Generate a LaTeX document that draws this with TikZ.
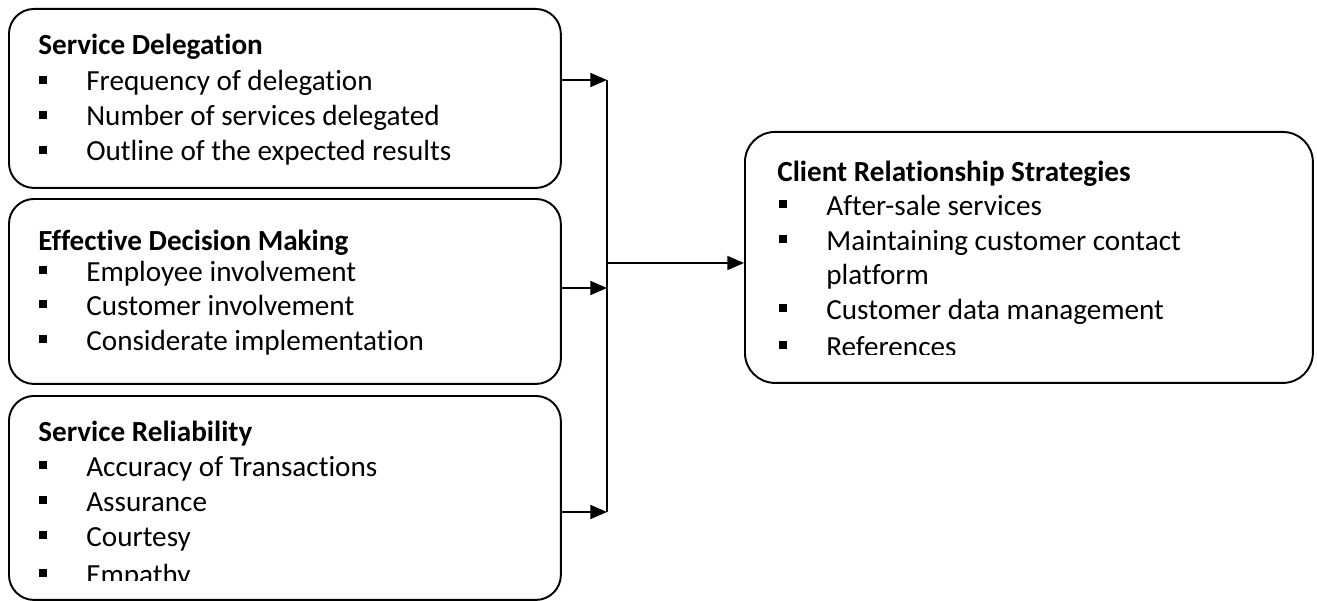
\documentclass[tikz,border=0pt]{standalone}
\usepackage{fontspec}
\setmainfont{Carlito}[Ligatures=NoCommon]
\usetikzlibrary{arrows.meta}

\tikzset{
  box/.style={draw, line width=1.1pt, rounded corners=0.5cm, anchor=north west, inner sep=0pt},
  txt/.style={anchor=base west, inner sep=0pt, font=\fontsize{16.6}{20}\selectfont},
  link/.style={line width=0.8pt, -{Triangle[length=9.5pt,width=8pt]}}
}
\newcommand{\bul}{\rule[4pt]{4.4pt}{4.4pt}}

\begin{document}
\begin{tikzpicture}[x=0.02cm,y=-0.02cm]
		\useasboundingbox (0,0) rectangle (1317,601);

		% Boxes
		\node[box, minimum width=11.04cm, minimum height=3.58cm] (sd) at (8,8) {};
		\node[box, minimum width=11.04cm, minimum height=3.7cm] (edm) at (8,198) {};
		\node[box, minimum width=11.04cm, minimum height=4.08cm] (sr) at (8,395) {};
		\node[box, rounded corners=0.6cm, minimum width=11.36cm, minimum height=5.02cm] (crs) at (744,131) {};

		% Service Delegation
		\node[txt] (sdt) at (38,55) {\bfseries Service Delegation};
		\foreach \y/\t in {91/Frequency of delegation, 126/Number of services delegated, 161/Outline of the expected results} {
			\node[txt] at (39,\y) {\bul};
			\node[txt] at (86,\y) {\t};
		}

		% Effective Decision Making
		\node[txt] (edmt) at (38,250) {\bfseries Effective Decision Making};
		\foreach \y/\t in {281/Employee involvement, 315/Customer involvement, 350/Considerate implementation} {
			\node[txt] at (39,\y) {\bul};
			\node[txt] at (86,\y) {\t};
		}

		% Service Reliability
		\begin{scope}
			\clip (0,0) rectangle (700,580);
			\node[txt] (srt) at (38,441) {\bfseries Service Reliability};
			\foreach \y/\t in {476/Accuracy of Transactions, 511/Assurance, 546/Courtesy, 584/Empathy} {
				\node[txt] at (39,\y) {\bul};
				\node[txt] at (86,\y) {\t};
			}
		\end{scope}

		% Client Relationship Strategies
		\begin{scope}
			\clip (700,0) rectangle (1317,354);
			\node[txt] (crst) at (777,182) {\bfseries Client Relationship Strategies};
			\foreach \y/\t in {215/After-sale services, 250/Maintaining customer contact, 319/Customer data management, 356/References} {
				\node[txt] at (779,\y) {\bul};
				\node[txt] at (826,\y) {\t};
			}
			\node[txt] at (826,284) {platform};
		\end{scope}

		% Arrows
		\coordinate (j1) at (607,80);
		\coordinate (j2) at (607,288);
		\coordinate (j3) at (607,512);
		\coordinate (jm) at (607,263);

		\draw[link] (sd.east |- j1) -- (j1);
		\draw[link] (edm.east |- j2) -- (j2);
		\draw[link] (sr.east |- j3) -- (j3);
		\draw[line width=0.8pt] (j1) -- (j3);
		\draw[link] (jm) -- (crs.west |- jm);
	\end{tikzpicture}
\end{document}
